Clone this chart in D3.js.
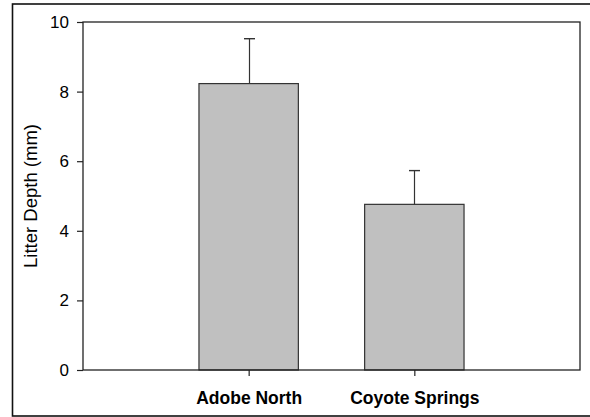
<!DOCTYPE html>
<html>
<head>
<meta charset="utf-8">
<script src="https://cdn.jsdelivr.net/npm/d3@7"></script>
<style>
  html, body { margin: 0; padding: 0; background: #fff; }
  svg { display: block; }
  text { font-family: "Liberation Sans", Arial, sans-serif; }
</style>
</head>
<body>
<svg id="chart" width="590" height="417"></svg>
<script>
// Mean litter depth per site with its error (upper bar)
const sites = ["Adobe North", "Coyote Springs"];
const depthMean = [8.23, 4.76];
const depthErr = [1.29, 0.97];
const yTicks = [0, 2, 4, 6, 8, 10];

const svg = d3.select("#chart");
const W = 590, H = 417;
const margin = { left: 83, top: 22, right: 10, bottom: 47 };
const x0 = margin.left, x1 = W - margin.right;
const y0 = H - margin.bottom, y1 = margin.top;

// outer frame
svg.append("rect")
  .attr("x", 12.5).attr("y", 4)
  .attr("width", 600).attr("height", 412)
  .attr("fill", "none").attr("stroke", "#111").attr("stroke-width", 1.6);

// each site sits in the middle of its slot, with half a slot empty at both ends
const xc = d3.scalePoint().domain(sites).range([x0, x1]).padding(1);
const step = (x1 - x0) / 3;
const barW = step * 0.6;

const y = d3.scaleLinear().domain([0, 10]).range([y0, y1]);

// bars
const g = svg.append("g");
g.selectAll("rect.bar").data(sites).join("rect")
  .attr("class", "bar")
  .attr("x", d => xc(d) - barW / 2)
  .attr("y", (d, i) => y(depthMean[i]))
  .attr("width", barW)
  .attr("height", (d, i) => y(0) - y(depthMean[i]))
  .attr("fill", "#c0c0c0")
  .attr("stroke", "#333").attr("stroke-width", 1.2);

// error bars
sites.forEach((s, i) => {
  const cx = Math.round(xc(s)) + 0.5;
  g.append("line")
    .attr("x1", cx).attr("x2", cx)
    .attr("y1", y(depthMean[i])).attr("y2", y(depthMean[i] + depthErr[i]))
    .attr("stroke", "#333").attr("stroke-width", 1.2);
  g.append("line")
    .attr("x1", cx - 5.5).attr("x2", cx + 5.5)
    .attr("y1", y(depthMean[i] + depthErr[i])).attr("y2", y(depthMean[i] + depthErr[i]))
    .attr("stroke", "#333").attr("stroke-width", 1.4);
});

// plot frame
svg.append("rect")
  .attr("x", x0).attr("y", y1)
  .attr("width", x1 - x0).attr("height", y0 - y1)
  .attr("fill", "none").attr("stroke", "#222").attr("stroke-width", 1.3);

// y axis
const yAxis = svg.append("g")
  .attr("transform", `translate(${x0},0)`)
  .call(d3.axisLeft(y).tickValues(yTicks).tickSize(6).tickPadding(8).tickFormat(d3.format("d")));
yAxis.select(".domain").remove();
yAxis.selectAll("line").attr("stroke", "#222").attr("stroke-width", 1.2);
yAxis.selectAll("text")
  .attr("font-family", null)
  .attr("font-size", 17).attr("fill", "#000");

// x axis
const xAxis = svg.append("g")
  .attr("transform", `translate(0,${y0})`)
  .call(d3.axisBottom(xc).tickSize(6).tickPadding(16));
xAxis.select(".domain").remove();
xAxis.selectAll("line").attr("stroke", "#222").attr("stroke-width", 1.2);
xAxis.selectAll("text")
  .attr("font-family", null)
  .attr("font-size", 17.5).attr("font-weight", "bold").attr("fill", "#000");

// y title
svg.append("text")
  .attr("transform", `translate(37,${(y0 + y1) / 2}) rotate(-90)`)
  .attr("text-anchor", "middle")
  .attr("font-size", 18.5).attr("fill", "#000")
  .text("Litter Depth (mm)");
</script>
</body>
</html>
